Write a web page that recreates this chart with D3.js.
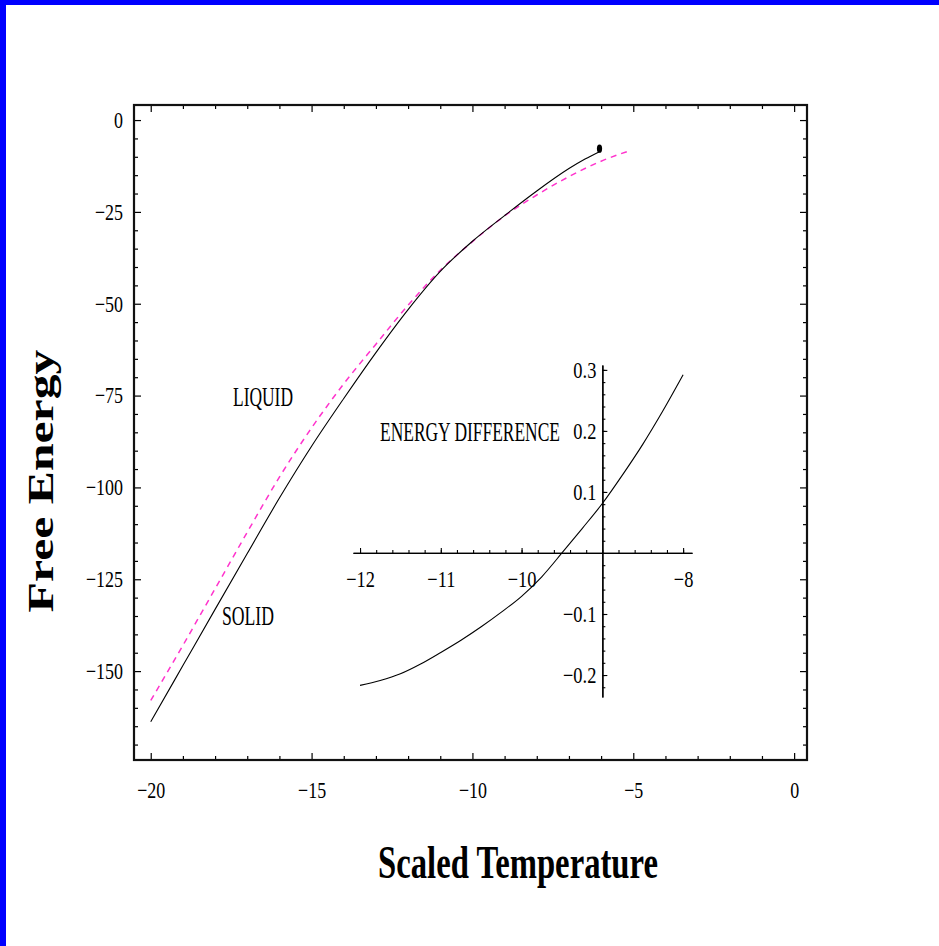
<!DOCTYPE html>
<html>
<head>
<meta charset="utf-8">
<script src="https://cdn.jsdelivr.net/npm/d3@7"></script>
<style>
  html, body { margin: 0; padding: 0; background: #fff; overflow: hidden; }
  svg { display: block; }
  text { font-family: "Liberation Serif", "Times New Roman", serif; fill: #000; }
</style>
</head>
<body>
<svg id="chart" width="939" height="946"></svg>
<script>
// solid (black) and liquid (pink dashed) free energy curves
const solidT = [-20, -19, -18, -17, -16, -15, -14, -13, -12, -11, -10, -9, -8, -7, -6.5, -6.05];
const solidF = [-163.8, -148.5, -133.2, -118, -102.9, -88.8, -75.8, -63.3, -51.6, -41.2, -33, -26, -19.3, -13.2, -10.6, -8.6];
const liquidT = [-20, -19, -18, -17, -16, -15, -14, -13, -12, -11, -10, -9, -8, -7, -6, -5.06];
const liquidF = [-158, -143, -127.6, -112.2, -97.2, -83.8, -71.8, -61, -50.4, -40.9, -33.1, -26.1, -20.4, -15.4, -11.2, -8.2];

// inset: energy difference
const diffT = [-12, -11.75, -11.5, -11.25, -11, -10.75, -10.5, -10.25, -10, -9.75, -9.5, -9.25, -9, -8.75, -8.5, -8.25, -8];
const diffE = [-0.217, -0.209, -0.198, -0.182, -0.163, -0.143, -0.121, -0.097, -0.071, -0.039, 0, 0.04, 0.081, 0.128, 0.178, 0.233, 0.292];

const xTicks = [-20, -15, -10, -5, 0];
const yTicks = [0, -25, -50, -75, -100, -125, -150];
const insetXTicks = [-12, -11, -10, -8];
const insetYTicks = [0.3, 0.2, 0.1, -0.1, -0.2];

const svg = d3.select('#chart');

// blue window edge
svg.append('rect').attr('x', 0).attr('y', 0).attr('width', 939).attr('height', 5).style('fill', '#0000ff');
svg.append('rect').attr('x', 0).attr('y', 0).attr('width', 6).attr('height', 946).style('fill', '#0000ff');

const x = d3.scaleLinear().domain([-20.52, 0.40]).range([134, 807]);
const y = d3.scaleLinear().domain([-174.2, 4.1]).range([760, 105]);

function squeeze(sel, k) {
  sel.each(function() {
    const w = this.getComputedTextLength();
    d3.select(this).attr('textLength', w * k).attr('lengthAdjust', 'spacingAndGlyphs');
  });
}

// text squeezed to a given width, kept as a real scaled glyph box
function label(str, x0, y0, size, width, opts = {}) {
  const t = svg.append('text')
    .style('font-size', size + 'px')
    .style('font-weight', opts.bold ? 'bold' : 'normal')
    .attr('text-anchor', opts.anchor || 'start')
    .text(str);
  const k = width / t.node().getComputedTextLength();
  t.attr('transform', `translate(${x0},${y0})${opts.rotate ? ' rotate(-90)' : ''} scale(${k},1)`);
  return t;
}

function axisStyle(g) {
  g.select('.domain').remove();
  g.selectAll('line').style('stroke', '#000').style('stroke-width', 1.2);
  g.selectAll('text').style('font-size', '23px').style('font-family', '"Liberation Serif", serif');
}

// major ticks with labels
svg.append('g').attr('transform', 'translate(0,760)')
  .call(d3.axisBottom(x).tickValues(xTicks).tickSize(-7).tickPadding(22).tickFormat(d3.format('d')))
  .call(axisStyle)
  .call(g => squeeze(g.selectAll('text'), 0.78));
svg.append('g').attr('transform', 'translate(134,0)')
  .call(d3.axisLeft(y).tickValues(yTicks).tickSize(-7).tickPadding(11).tickFormat(d3.format('d')))
  .call(axisStyle)
  .call(g => squeeze(g.selectAll('text'), 0.78));
svg.append('g').attr('transform', 'translate(0,105)')
  .call(d3.axisTop(x).tickValues(xTicks).tickSize(-7).tickFormat(''))
  .call(axisStyle);
svg.append('g').attr('transform', 'translate(807,0)')
  .call(d3.axisRight(y).tickValues(yTicks).tickSize(-7).tickFormat(''))
  .call(axisStyle);

// minor ticks
const xMinor = d3.range(-20, 1, 1).filter(v => v % 5 !== 0);
const yMinor = d3.range(0, -175, -5).filter(v => v % 25 !== 0);
[[d3.axisBottom(x).tickValues(xMinor), 'translate(0,760)'],
 [d3.axisTop(x).tickValues(xMinor), 'translate(0,105)'],
 [d3.axisLeft(y).tickValues(yMinor), 'translate(134,0)'],
 [d3.axisRight(y).tickValues(yMinor), 'translate(807,0)']].forEach(([ax, tr]) => {
  svg.append('g').attr('transform', tr)
    .call(ax.tickSize(-4).tickFormat(''))
    .call(axisStyle);
});

// frame
svg.append('rect')
  .attr('x', 134).attr('y', 105)
  .attr('width', 807 - 134).attr('height', 760 - 105)
  .style('fill', 'none').style('stroke', '#111').style('stroke-width', 2.2);

const line = d3.line().x(d => x(d[0])).y(d => y(d[1])).curve(d3.curveMonotoneX);

svg.append('path')
  .datum(d3.zip(liquidT, liquidF))
  .attr('d', line)
  .style('fill', 'none').style('stroke', '#ff33cc').style('stroke-width', 1.5)
  .style('stroke-dasharray', '6,5');

const solid = d3.zip(solidT, solidF);
svg.append('path')
  .datum(solid)
  .attr('d', line)
  .style('fill', 'none').style('stroke', '#000').style('stroke-width', 1.1);

const last = solid[solid.length - 1];
svg.append('ellipse')
  .attr('cx', x(last[0])).attr('cy', y(last[1]) - 3)
  .attr('rx', 2.6).attr('ry', 4.2)
  .style('fill', '#000');

// labels on curves
label('LIQUID', 233, 406, 27, 60);
label('SOLID', 222, 625, 27, 52);

// inset
const ix = d3.scaleLinear().domain([-12.087, -7.89]).range([353, 692]);
const iy = d3.scaleLinear().domain([-0.236, 0.308]).range([697, 365]);

function insetStyle(g) {
  g.select('.domain').style('stroke', '#000').style('stroke-width', 1.3);
  g.selectAll('line').style('stroke', '#000').style('stroke-width', 1.1);
  g.selectAll('text').style('font-size', '23px').style('font-family', '"Liberation Serif", serif');
}

svg.append('g').attr('transform', `translate(0,${iy(0)})`)
  .call(d3.axisBottom(ix).tickValues(insetXTicks).tickSize(-5).tickSizeOuter(0).tickPadding(18).tickFormat(d3.format('d')))
  .call(insetStyle)
  .call(g => squeeze(g.selectAll('text'), 0.8));
svg.append('g').attr('transform', `translate(0,${iy(0)})`)
  .call(d3.axisBottom(ix).tickValues(d3.range(-12, -7.9, 0.2)).tickSize(-3).tickSizeOuter(0).tickFormat(''))
  .call(insetStyle);

svg.append('g').attr('transform', `translate(${ix(-9)},0)`)
  .call(d3.axisLeft(iy).tickValues(insetYTicks).tickSize(-5).tickSizeOuter(0).tickPadding(6).tickFormat(d3.format('.1f')))
  .call(insetStyle)
  .call(g => squeeze(g.selectAll('text'), 0.8));
svg.append('g').attr('transform', `translate(${ix(-9)},0)`)
  .call(d3.axisLeft(iy).tickValues(d3.range(-0.22, 0.31, 0.02)).tickSize(-3).tickSizeOuter(0).tickFormat(''))
  .call(insetStyle);

svg.append('path')
  .datum(d3.zip(diffT, diffE))
  .attr('d', d3.line().x(d => ix(d[0])).y(d => iy(d[1])).curve(d3.curveMonotoneX))
  .style('fill', 'none').style('stroke', '#000').style('stroke-width', 1.1);

label('ENERGY DIFFERENCE', 380, 441, 27, 180);

// axis titles
label('Scaled Temperature', 518, 878, 46, 280, { bold: true, anchor: 'middle' });
label('Free Energy', 53, 481, 36, 263, { bold: true, anchor: 'middle', rotate: true });
</script>
</body>
</html>
